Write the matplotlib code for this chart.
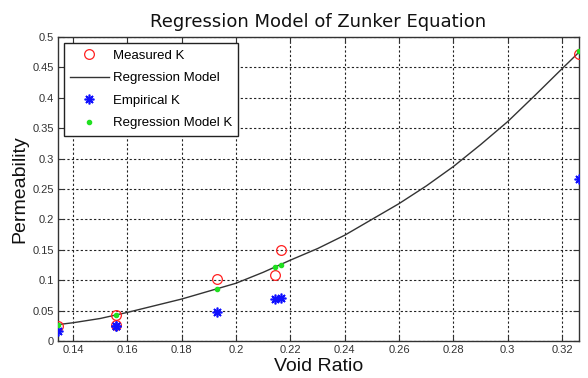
import matplotlib
matplotlib.use("Agg")
import matplotlib.pyplot as plt
from matplotlib import font_manager

names = {f.name for f in font_manager.fontManager.ttflist}
narrow = "Liberation Sans Narrow" if "Liberation Sans Narrow" in names else "Liberation Sans"

# Data
void_ratio = [0.1345, 0.1557, 0.1557, 0.1931, 0.2145, 0.2166, 0.3262]
measured_k = [0.025, 0.043, 0.026, 0.102, 0.109, 0.150, 0.472]
empirical_k = [0.016, 0.024, 0.024, 0.048, 0.069, 0.070, 0.266]
model_void = [0.1345, 0.1557, 0.1931, 0.2145, 0.2166, 0.3262]
model_k = [0.027, 0.043, 0.085, 0.121, 0.125, 0.477]

curve_x = [0.1345, 0.14, 0.15, 0.16, 0.17, 0.18, 0.19, 0.20, 0.21, 0.22, 0.23,
           0.24, 0.25, 0.26, 0.27, 0.28, 0.29, 0.30, 0.31, 0.32, 0.3262]
curve_y = [0.027, 0.030, 0.037, 0.047, 0.058, 0.069, 0.082, 0.095, 0.113, 0.133, 0.152,
           0.174, 0.200, 0.226, 0.255, 0.287, 0.323, 0.361, 0.404, 0.448, 0.475]

xticks = [0.14, 0.16, 0.18, 0.2, 0.22, 0.24, 0.26, 0.28, 0.3, 0.32]
xtick_labels = ["0.14", "0.16", "0.18", "0.2", "0.22", "0.24", "0.26", "0.28", "0.3", "0.32"]
yticks = [0, 0.05, 0.1, 0.15, 0.2, 0.25, 0.3, 0.35, 0.4, 0.45, 0.5]
ytick_labels = ["0", "0.05", "0.1", "0.15", "0.2", "0.25", "0.3", "0.35", "0.4", "0.45", "0.5"]

fig = plt.figure(figsize=(5.88, 3.78), dpi=100)
ax = fig.add_axes([58/588, 1-341/378, (579-58)/588, (341-37)/378])

ax.plot(void_ratio, measured_k, linestyle="none", marker="o", markersize=7,
        markerfacecolor="none", markeredgecolor="#ff2020", markeredgewidth=0.9,
        label="Measured K", zorder=3)
ax.plot(curve_x, curve_y, color="#333333", linewidth=1.0, label="Regression Model", zorder=2)
ax.plot(void_ratio, empirical_k, linestyle="none", marker=(8, 2, 0), markersize=7,
        color="#1010ff", markeredgewidth=1.2, label="Empirical K", zorder=3)
ax.plot(model_void, model_k, linestyle="none", marker=".", markersize=6,
        color="#20e020", label="Regression Model K", zorder=4)

ax.set_xlim(0.1345, 0.3262)
ax.set_ylim(0, 0.5)
ax.set_xticks(xticks)
ax.set_xticklabels(xtick_labels)
ax.set_yticks(yticks)
ax.set_yticklabels(ytick_labels)
ax.tick_params(direction="in", length=4, top=True, right=True, labelsize=8,
               colors="#333333", labelcolor="#333333", pad=3)
for lab in ax.get_xticklabels() + ax.get_yticklabels():
    lab.set_family(narrow)
ax.grid(True, linestyle=(0, (2, 2)), color="#222222", linewidth=0.8)
for s in ax.spines.values():
    s.set_color("#333333")
    s.set_linewidth(1.0)

ax.set_title("Regression Model of Zunker Equation", fontsize=13, pad=7, color="#111111")
ax.set_xlabel("Void Ratio", fontsize=14, labelpad=2, color="#111111", family="Liberation Sans")
ax.set_ylabel("Permeability", fontsize=14, labelpad=3, color="#111111", family="Liberation Sans")

leg = ax.legend(loc="upper left", bbox_to_anchor=(0.011, 0.98), fancybox=False,
                framealpha=1, edgecolor="#222222", prop={"family": narrow, "size": 9.5},
                borderpad=0.5, labelspacing=0.78, handlelength=2.9, handletextpad=0.3,
                borderaxespad=0)
leg.get_frame().set_linewidth(1.0)

fig.savefig("out.png", dpi=100)
